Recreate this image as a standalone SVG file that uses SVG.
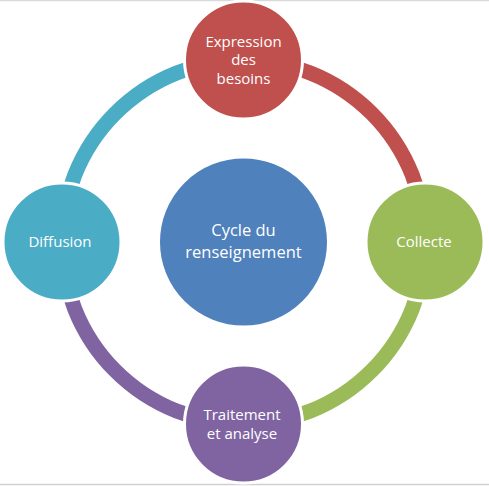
<svg xmlns="http://www.w3.org/2000/svg" width="489" height="486" viewBox="0 0 489 486">
<style>
.arc{fill:none;stroke-width:15}
.node{stroke:#fff;stroke-width:3}
.lbl{font-family:"Open Sans","Liberation Sans",sans-serif;font-size:15px;fill:#fff;text-anchor:middle}
.big{font-size:16.5px}
</style>
<rect x="0" y="0" width="489" height="486" fill="#fff"/>
<line x1="0" y1="0.5" x2="489" y2="0.5" stroke="#d9d9d9" stroke-width="1.5"/>
<line x1="0" y1="484.5" x2="489" y2="484.5" stroke="#d0d0d0" stroke-width="1.5"/>
<g id="connectors">
<path class="arc" stroke="#C0504D" d="M243.5 60 A182 182 0 0 1 425 242"/>
<path class="arc" stroke="#9BBB59" d="M425 242 A182 182 0 0 1 243.5 424"/>
<path class="arc" stroke="#8064A2" d="M243.5 424 A182 182 0 0 1 62 242"/>
<path class="arc" stroke="#4BACC6" d="M62 242 A182 182 0 0 1 243.5 60"/>
</g>
<g id="center">
<circle class="node" cx="243.5" cy="242" r="85" fill="#4F81BD"/>
<text class="lbl big" x="243.5" y="236">Cycle du</text>
<text class="lbl big" x="243.5" y="258">renseignement</text>
</g>
<g id="expression">
<circle class="node" cx="243.5" cy="60" r="59" fill="#C0504D"/>
<text class="lbl" x="243.5" y="46.5">Expression</text>
<text class="lbl" x="243.5" y="65">des</text>
<text class="lbl" x="243.5" y="83.5">besoins</text>
</g>
<g id="collecte">
<circle class="node" cx="425" cy="242" r="59" fill="#9BBB59"/>
<text class="lbl" x="424" y="246.5">Collecte</text>
</g>
<g id="traitement">
<circle class="node" cx="243.5" cy="424" r="59" fill="#8064A2"/>
<text class="lbl" x="242" y="420">Traitement</text>
<text class="lbl" x="242" y="438.5">et analyse</text>
</g>
<g id="diffusion">
<circle class="node" cx="62" cy="242" r="59" fill="#4BACC6"/>
<text class="lbl" x="60" y="246.5">Diffusion</text>
</g>
</svg>
